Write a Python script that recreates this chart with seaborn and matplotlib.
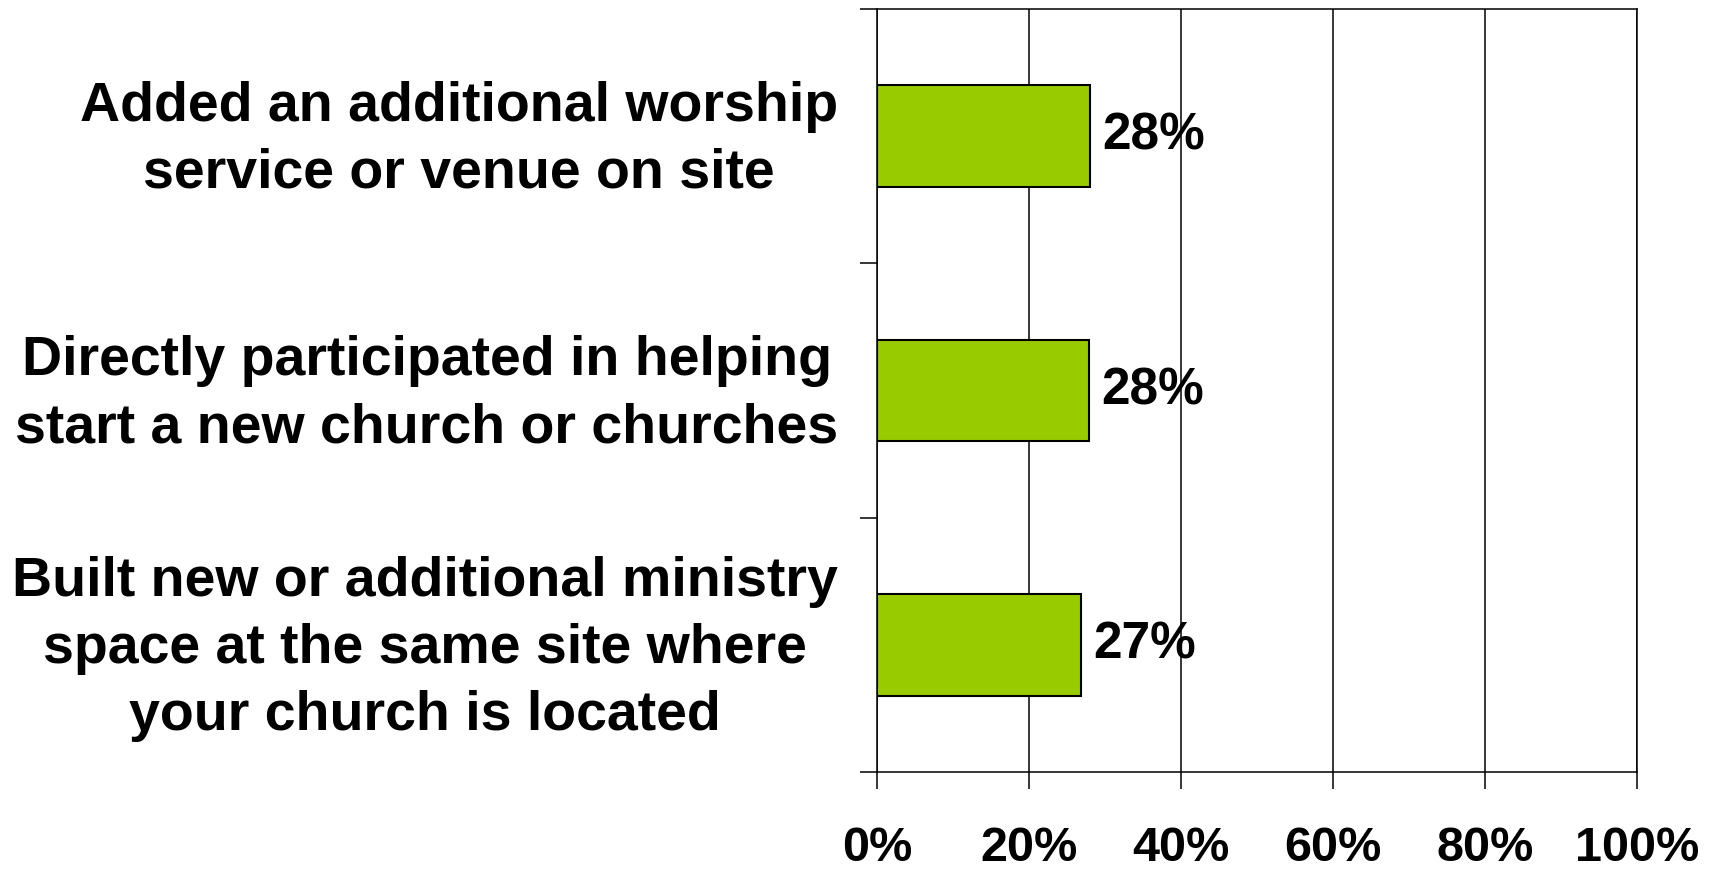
import matplotlib.pyplot as plt
import matplotlib.transforms as mtransforms
import seaborn as sns
from matplotlib.ticker import FixedLocator

# Data
categories = [
    'Added an additional worship\nservice or venue on site',
    'Directly participated in helping\nstart a new church or churches',
    'Built new or additional ministry\nspace at the same site where\nyour church is located',
]
values = [28, 27.9, 26.8]
value_labels = ['28%', '28%', '27%']
x_ticks = [0, 20, 40, 60, 80, 100]

sns.set_style("white")
plt.rcParams['font.family'] = ['Liberation Sans', 'DejaVu Sans']
plt.rcParams['font.weight'] = 'bold'
plt.rcParams['text.color'] = 'black'
plt.rcParams['xtick.labelcolor'] = 'black'
plt.rcParams['ytick.labelcolor'] = 'black'

fig = plt.figure(figsize=(17.15, 8.69), dpi=100)
fig.subplots_adjust(left=0.5114, right=0.9545, top=0.9896, bottom=0.1116)
ax = fig.add_subplot(111)

sns.barplot(x=values, y=categories, orient='h', color='#99CC00',
            edgecolor='black', linewidth=1.5, width=0.4, saturation=1, ax=ax)

# Percent labels at the bar ends
ax.bar_label(ax.containers[0], labels=value_labels, padding=9,
             fontsize=37, fontweight='bold', color='black')

# X axis
ax.set_xlim(0, 100)
ax.set_xticks(x_ticks)
ax.set_xticklabels([f'{v}%' for v in x_ticks], fontsize=35, fontweight='bold')
ax.tick_params(axis='x', direction='out', length=12, width=1.1, color='black', pad=27,
               bottom=True, labelcolor='black')
ax.xaxis.grid(True, color='black', linewidth=1.1)
ax.set_axisbelow(True)

# Y axis: labels centred on bars, ticks between categories
ax.set_ylim(2.5, -0.5)
ax.tick_params(axis='y', which='major', length=0, pad=28, labelsize=40, labelcolor='black')
ax.yaxis.set_minor_locator(FixedLocator([-0.5, 0.5, 1.5, 2.5]))
ax.tick_params(axis='y', which='minor', direction='out', length=12, width=1.1,
               color='black', left=True)
shift = mtransforms.ScaledTranslation(0, -3 / 72, fig.dpi_scale_trans)
for t in ax.get_yticklabels():
    t.set_multialignment('center')
    t.set_linespacing(1.38)
    t.set_fontweight('bold')
    t.set_va('center')
    t.set_transform(t.get_transform() + shift)

for side in ['left', 'bottom', 'top', 'right']:
    ax.spines[side].set_visible(True)
    ax.spines[side].set_color('black')
    ax.spines[side].set_linewidth(1.1)

ax.set_xlabel('')
ax.set_ylabel('')

plt.savefig('out.png', dpi=100)
